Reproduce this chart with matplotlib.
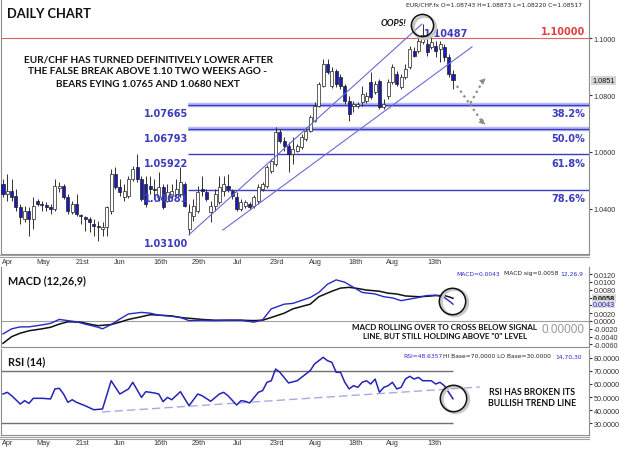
import numpy as np
import matplotlib.pyplot as plt

W, H = 619, 452
plt.rcParams['font.family'] = ['DejaVu Sans']

# ---------------- data ----------------
opens = [1.0488, 1.0453, 1.0463, 1.0446, 1.0407, 1.0365, 1.0393, 1.0365, 1.0428, 1.0417,
         1.0414, 1.0407, 1.0400, 1.0474, 1.0481, 1.0442, 1.0389, 1.0417, 1.0379, 1.0372,
         1.0365, 1.0347, 1.0340, 1.0330, 1.0337, 1.0393, 1.0523, 1.0477, 1.0442, 1.0446,
         1.0505, 1.0547, 1.0505, 1.0488, 1.0481, 1.0470, 1.0442, 1.0477, 1.0428, 1.0446,
         1.0453, 1.0453, 1.0488, 1.0330, 1.0375, 1.0393, 1.0470, 1.0460, 1.0389, 1.0410,
         1.0424, 1.0463, 1.0481, 1.0463, 1.0442, 1.0400, 1.0410, 1.0417, 1.0410, 1.0428,
         1.0470, 1.0481, 1.0533, 1.0558, 1.0670, 1.0638, 1.0621, 1.0593, 1.0603, 1.0617,
         1.0645, 1.0674, 1.0709, 1.0761, 1.0832, 1.0909, 1.0832, 1.0884, 1.0863, 1.0832,
         1.0779, 1.0761, 1.0761, 1.0775, 1.0779, 1.0846, 1.0811, 1.0849, 1.0758, 1.0796,
         1.0846, 1.0874, 1.0828, 1.0863, 1.0898, 1.0954, 1.0954, 1.0986, 1.0979, 1.0969,
         1.0972, 1.0961, 1.0969, 1.0933, 1.08743]
closes = [1.0453, 1.0463, 1.0442, 1.0407, 1.0372, 1.0393, 1.0365, 1.0410, 1.0417, 1.0414,
          1.0407, 1.0400, 1.0481, 1.0481, 1.0442, 1.0393, 1.0417, 1.0382, 1.0375, 1.0365,
          1.0354, 1.0340, 1.0337, 1.0337, 1.0407, 1.0523, 1.0477, 1.0460, 1.0463, 1.0505,
          1.0540, 1.0505, 1.0435, 1.0417, 1.0470, 1.0467, 1.0477, 1.0407, 1.0460, 1.0463,
          1.0470, 1.0495, 1.0410, 1.0389, 1.0410, 1.0460, 1.0463, 1.0435, 1.0410, 1.0453,
          1.0477, 1.0488, 1.0470, 1.0446, 1.0400, 1.0424, 1.0424, 1.0407, 1.0442, 1.0477,
          1.0488, 1.0547, 1.0568, 1.0670, 1.0638, 1.0621, 1.0593, 1.0610, 1.0621, 1.0652,
          1.0674, 1.0722, 1.0761, 1.0839, 1.0909, 1.0881, 1.0884, 1.0839, 1.0832, 1.0779,
          1.0733, 1.0768, 1.0768, 1.0803, 1.0796, 1.0793, 1.0839, 1.0758, 1.0768, 1.0846,
          1.0898, 1.0839, 1.0863, 1.0891, 1.0961, 1.0937, 1.0990, 1.1011, 1.0951, 1.0986,
          1.0954, 1.0979, 1.0933, 1.0874, 1.08517]
highs = [1.0505, 1.0523, 1.0505, 1.0470, 1.0417, 1.0410, 1.0407, 1.0442, 1.0435, 1.0428,
         1.0424, 1.0417, 1.0505, 1.0495, 1.0488, 1.0453, 1.0428, 1.0453, 1.0382, 1.0375,
         1.0372, 1.0365, 1.0358, 1.0354, 1.0410, 1.0540, 1.0547, 1.0505, 1.0488, 1.0516,
         1.0551, 1.0593, 1.0516, 1.0516, 1.0516, 1.0505, 1.0530, 1.0488, 1.0488, 1.0488,
         1.0505, 1.0547, 1.0495, 1.0417, 1.0435, 1.0481, 1.0516, 1.0470, 1.0428, 1.0470,
         1.0516, 1.0516, 1.0523, 1.0470, 1.0460, 1.0435, 1.0431, 1.0424, 1.0449, 1.0488,
         1.0495, 1.0554, 1.0575, 1.0688, 1.0681, 1.0652, 1.0635, 1.0652, 1.0628, 1.0663,
         1.0688, 1.0729, 1.0775, 1.0846, 1.0926, 1.0926, 1.0898, 1.0891, 1.0874, 1.0839,
         1.0796, 1.0779, 1.0775, 1.0832, 1.0811, 1.0881, 1.0849, 1.0856, 1.0786, 1.0856,
         1.0909, 1.0884, 1.0874, 1.0909, 1.0972, 1.0969, 1.1004, 1.10487, 1.1014, 1.1014,
         1.0990, 1.0990, 1.0979, 1.0944, 1.08873]
lows = [1.0442, 1.0428, 1.0428, 1.0393, 1.0347, 1.0354, 1.0305, 1.0330, 1.0410, 1.0393,
        1.0393, 1.0382, 1.0393, 1.0460, 1.0435, 1.0382, 1.0382, 1.0375, 1.0347, 1.0323,
        1.0319, 1.0305, 1.0288, 1.0305, 1.0305, 1.0382, 1.0470, 1.0446, 1.0428, 1.0439,
        1.0498, 1.0495, 1.0428, 1.0407, 1.0453, 1.0435, 1.0428, 1.0400, 1.0424, 1.0435,
        1.0446, 1.0442, 1.0407, 1.0310, 1.0358, 1.0386, 1.0446, 1.0428, 1.0354, 1.0393,
        1.0417, 1.0446, 1.0460, 1.0435, 1.0393, 1.0393, 1.0403, 1.0400, 1.0403, 1.0417,
        1.0463, 1.0474, 1.0526, 1.0551, 1.0631, 1.0603, 1.0530, 1.0558, 1.0600, 1.0610,
        1.0638, 1.0670, 1.0705, 1.0758, 1.0828, 1.0874, 1.0825, 1.0828, 1.0821, 1.0768,
        1.0709, 1.0740, 1.0754, 1.0761, 1.0772, 1.0786, 1.0803, 1.0751, 1.0751, 1.0786,
        1.0839, 1.0832, 1.0821, 1.0856, 1.0891, 1.0933, 1.0947, 1.0979, 1.0937, 1.0961,
        1.0933, 1.0916, 1.0919, 1.0863, 1.08220]

date_labels = ['Apr', 'May', '21st', 'Jun', '16th', '29th', 'Jul', '23rd', 'Aug', '18th', 'Aug', '13th']
date_pos = [1.0, 9.2, 18.3, 27, 36.5, 45.3, 54.1, 63.3, 72.1, 81.4, 90.1, 99.6]

fib_levels = [1.07665, 1.06793, 1.05922, 1.04681]
fib_labels = ['1.07665', '1.06793', '1.05922', '1.04681']
fib_pcts = ['38.2%', '50.0%', '61.8%', '78.6%']
swing_low, swing_high = 1.03100, 1.10487
last_close = 1.0851

macd_i = [0, 2, 4, 6, 9, 11, 13, 15, 17, 19, 22, 23, 25, 27, 29, 32, 34, 36, 39, 41, 43, 46, 49, 52,
          55, 58, 60, 62, 65, 67, 71, 73, 75, 77, 79, 81, 83, 86, 88, 90, 92, 94, 96, 98, 100, 102, 103, 104]
macd_v = [-0.0033, -0.0020, -0.0015, -0.0015, -0.0010, -0.0006, 0.0004, 0.0001, -0.0002, -0.0008,
          -0.0016, -0.0020, -0.0009, 0.0005, 0.0018, 0.0022, 0.0020, 0.0015, 0.0012, 0.0009,
          0.0001, 0.0002, 0.0001, 0.0002, 0.0002, -0.0003, 0.0003, 0.0031, 0.0043, 0.0045,
          0.0060, 0.0073, 0.0094, 0.0105, 0.0099, 0.0086, 0.0073, 0.0069, 0.0062, 0.0059,
          0.0052, 0.0056, 0.0060, 0.0065, 0.0066, 0.0060, 0.0052, 0.0043]
sig_i = [0, 2, 4, 6, 9, 11, 13, 15, 18, 20, 22, 25, 27, 29, 32, 34, 36, 39, 41, 43, 46, 49, 52,
         55, 58, 60, 62, 65, 67, 71, 73, 76, 78, 80, 82, 84, 87, 89, 91, 93, 96, 98, 100, 102, 103, 104]
sig_v = [-0.0057, -0.0040, -0.0031, -0.0025, -0.0020, -0.0016, -0.0008, -0.0002, -0.0003, -0.0008,
         -0.0012, -0.0009, -0.0003, 0.0004, 0.0011, 0.0016, 0.0015, 0.0013, 0.0009, 0.0007,
         0.0004, 0.0002, 0.0002, 0.0002, 0.0001, 0.0002, 0.0009, 0.0020, 0.0031, 0.0043,
         0.0062, 0.0076, 0.0084, 0.0086, 0.0083, 0.0079, 0.0076, 0.0071, 0.0069, 0.0064,
         0.0062, 0.0063, 0.0065, 0.0065, 0.0062, 0.0058]
macd_ticks = [0.012, 0.010, 0.008, 0.006, 0.004, 0.002, 0.0, -0.002, -0.004, -0.006]

rsi_i = [0, 1, 2, 4, 5, 6, 7, 9, 11, 12, 13, 14, 15, 16, 17, 19, 21, 23, 25, 27, 29, 30, 32, 33,
         35, 36, 37, 38, 39, 41, 43, 45, 46, 48, 50, 51, 52, 54, 55, 56, 57, 59, 60, 61, 62, 63,
         64, 66, 68, 71, 72, 74, 75, 76, 77, 78, 79, 80, 81, 82, 83, 84, 85, 86, 87, 88, 89, 90,
         91, 92, 93, 94, 95, 96, 97, 99, 100, 101, 102, 103, 104]
rsi_v = [52.3, 53.6, 51.0, 44.6, 47.2, 45.1, 49.0, 49.0, 48.5, 56.2, 56.7, 52.3, 45.9, 47.9, 45.9,
         43.3, 40.2, 40.8, 62.5, 52.3, 56.2, 61.3, 49.7, 54.1, 53.1, 52.3, 46.4, 49.7, 47.9, 54.1,
         43.3, 52.3, 51.0, 46.7, 52.3, 53.6, 51.0, 43.8, 47.2, 46.7, 45.4, 53.6, 54.9, 61.3, 62.5,
         71.5, 69.0, 60.8, 62.5, 70.3, 75.4, 80.5, 77.9, 76.7, 69.0, 69.0, 61.3, 56.2, 58.7, 57.4,
         61.3, 62.5, 60.0, 63.8, 53.6, 57.4, 58.7, 61.3, 56.2, 57.4, 63.8, 65.9, 63.8, 65.1, 62.5,
         62.5, 60.0, 61.3, 58.7, 53.6, 48.6]
rsi_ticks = [80, 70, 60, 50, 40, 30]

# ---------------- layout helpers ----------------
def box(x0, y0, x1, y1):
    return [x0 / W, 1 - y1 / H, (x1 - x0) / W, (y1 - y0) / H]

def fx(px):
    return px / W

def fy(py):
    return 1 - py / H

BLUE = '#1c1cb4'
FIB = '#3c3cc0'
GRID = '#8c8c8c'
ANN = dict(family='Lato', weight='bold', color='#111111')
SMALL = dict(family='Liberation Sans', fontsize=5.2)

fig = plt.figure(figsize=(W / 100, H / 100), dpi=100)
X0, X1 = -0.46, 135.43

def style(a):
    a.set_xlim(X0, X1)
    for s in a.spines.values():
        s.set_color(GRID)
        s.set_linewidth(0.8)
    a.spines['top'].set_visible(False)
    a.yaxis.tick_right()
    a.tick_params(axis='y', length=2, colors='#333333', pad=1.5)
    a.tick_params(axis='x', length=0, colors='#333333', pad=3)

def small_labels(a):
    for t in a.get_xticklabels() + a.get_yticklabels():
        t.set_fontfamily(SMALL['family'])
        t.set_fontsize(SMALL['fontsize'])

# ---------------- main price panel ----------------
ax = fig.add_axes(box(1, 0, 589, 255))
style(ax)
ax.set_ylim(1.0242, 1.1137)
idx = np.arange(len(closes))
o = np.array(opens)
c = np.array(closes)
bull = c >= o
ax.vlines(idx, lows, highs, color='#303030', lw=0.7, zorder=3)
ax.bar(idx, np.maximum(np.abs(c - o), 0.00015), bottom=np.minimum(o, c), width=0.7,
       color=np.where(bull, 'white', BLUE), edgecolor='#202020', linewidth=0.5, zorder=4)

ax.axhline(1.10, color='#e06464', lw=0.8, zorder=2)
for k, lvl in enumerate(fib_levels):
    if k < 2:
        ax.hlines(lvl, 42.7, X1, color='#b8bcf2', lw=3.2, zorder=2)
    ax.hlines(lvl, 42.7, X1, color=FIB, lw=1.0, zorder=2)
    ax.annotate(fib_labels[k], (42.8, lvl), xytext=(0, -2.5), textcoords='offset points',
                ha='right', va='top', fontsize=7, weight='bold', color=FIB, zorder=6)
    ax.annotate(fib_pcts[k], (134.6, lvl), xytext=(0, -2.5), textcoords='offset points',
                ha='right', va='top', fontsize=7, weight='bold', color=FIB, zorder=6)
ax.annotate(f'{swing_low:.5f}', (42.8, swing_low), xytext=(0, -2.5), textcoords='offset points',
            ha='right', va='top', fontsize=7, weight='bold', color=FIB, zorder=6)
ax.annotate(f'{swing_high:.5f}', (102.4, swing_high), xytext=(0, -2.5), textcoords='offset points',
            ha='center', va='top', fontsize=7, weight='bold', color=FIB, zorder=6)
ax.annotate('1.10000', (134.6, 1.10), xytext=(0, 1.5), textcoords='offset points',
            ha='right', va='bottom', fontsize=7, weight='bold', color='#e04040', zorder=6)

# trend channel
ax.plot([43, 96.8], [swing_low, swing_high], color='#6a6ad8', lw=0.8, zorder=5)
ax.plot([50.8, 108.4], [1.0326, 1.0969], color='#6a6ad8', lw=0.8, zorder=5)

# dotted scenario arrows
ax.plot([104.9, 107.9, 111.0], [1.0832, 1.0768, 1.0852], ls=':', color='#8a8a8a', lw=1.6, zorder=5)
ax.plot([107.9, 111.0], [1.0768, 1.0700], ls=':', color='#8a8a8a', lw=1.6, zorder=5)
ax.annotate('', xy=(112.0, 1.0865), xytext=(110.8, 1.0848),
            arrowprops=dict(arrowstyle='-|>', color='#8a8a8a', lw=0.5, mutation_scale=9))
ax.annotate('', xy=(111.9, 1.0690), xytext=(110.8, 1.0705),
            arrowprops=dict(arrowstyle='-|>', color='#8a8a8a', lw=0.5, mutation_scale=9))

# circle around the false break
ax.plot(97.2, 1.1040, 'o', ms=16, mfc='none', mec='#c8c8c8', mew=2.2, zorder=6)
ax.plot(96.8, 1.1045, 'o', ms=16, mfc='none', mec='#111111', mew=1.1, zorder=7)

ax.set_yticks([1.04, 1.06, 1.08, 1.10])
ax.set_yticklabels(['1.0400', '1.0600', '1.0800', '1.1000'])
ax.set_xticks(date_pos)
ax.set_xticklabels(date_labels)
small_labels(ax)
ax.text(1.006, last_close, f'{last_close:.4f}', transform=ax.get_yaxis_transform(),
        color='#111111', va='center', ha='left',
        bbox=dict(boxstyle='square,pad=0.15', fc='#d4d4d4', ec='none'), **SMALL)

# ---------------- MACD panel ----------------
am = fig.add_axes(box(1, 268, 589, 348))
style(am)
am.set_ylim(-0.00664, 0.01379)
am.axhline(0, color='#a0a0a0', lw=0.8)
am.plot(sig_i, sig_v, color='#111111', lw=1.1)
am.plot(macd_i, macd_v, color='#2828c8', lw=1.0)
am.set_xticks([])
am.set_yticks(macd_ticks)
# the two value tags below cover the 0.0060 / 0.0040 labels, as on the original
am.set_yticklabels(['' if v in (0.006, 0.004) else f'{v:.4f}' for v in macd_ticks])
small_labels(am)
am.text(1.006, sig_v[-1], f'{sig_v[-1]:.4f}', transform=am.get_yaxis_transform(),
        weight='bold', color='#111111', va='center', ha='left',
        bbox=dict(boxstyle='square,pad=0.1', fc='#dcdcdc', ec='none'), **SMALL)
am.text(1.006, macd_v[-1], f'{macd_v[-1]:.4f}', transform=am.get_yaxis_transform(),
        color='#2828c8', va='center', ha='left',
        bbox=dict(boxstyle='square,pad=0.1', fc='#dcdcdc', ec='none'), **SMALL)
am.plot(104.2, 0.0049, 'o', ms=19, mfc='none', mec='#c8c8c8', mew=2.2, zorder=6)
am.plot(103.8, 0.0051, 'o', ms=19, mfc='none', mec='#111111', mew=1.1, zorder=7)

# ---------------- RSI panel ----------------
ar = fig.add_axes(box(1, 350, 589, 436))
style(ar)
ar.set_ylim(20.8, 86.9)
ar.hlines([70, 30], X0, 104, color='#707070', lw=1.0)
ar.plot([22.9, 110.2], [38.5, 57.7], ls=(0, (6, 3)), color='#a8a8e8', lw=1.0)
ar.plot(rsi_i, rsi_v, color='#2424b8', lw=1.1)
ar.set_yticks(rsi_ticks)
ar.set_yticklabels([f'{v:.4f}' for v in rsi_ticks])
ar.set_xticks(date_pos)
ar.set_xticklabels(date_labels)
small_labels(ar)
ar.plot(104.4, 48.4, 'o', ms=19, mfc='none', mec='#c8c8c8', mew=2.2, zorder=6)
ar.plot(104.0, 49.2, 'o', ms=19, mfc='none', mec='#111111', mew=1.1, zorder=7)

# panel separators
for py in (255.5, 258, 437.5, 440):
    fig.add_artist(plt.Line2D([0, fx(589)], [fy(py), fy(py)], color='#a0a0a0', lw=0.8))

# ---------------- text ----------------
fig.text(fx(7), fy(14), 'DAILY CHART', fontsize=9.3, va='center', **ANN)
fig.text(fx(148), fy(72),
         'EUR/CHF HAS TURNED DEFINITIVELY LOWER AFTER\nTHE FALSE BREAK ABOVE 1.10 TWO WEEKS AGO -\n'
         'BEARS EYING 1.0765 AND 1.0680 NEXT',
         fontsize=7.2, ha='center', va='center', linespacing=1.45, **ANN)
fig.text(fx(394), fy(24), 'OOPS!', fontsize=6.5, ha='center', va='center', style='italic', **ANN)
fig.text(fx(582), fy(5), 'EUR/CHF.fx O=1.08743 H=1.08873 L=1.08220 C=1.08517',
         fontsize=4.3, ha='right', va='center', color='#222222')

fig.text(fx(8), fy(281), 'MACD (12,26,9)', fontsize=7.8, va='center', **ANN)
fig.text(fx(583), fy(274), '12,26,9', fontsize=4.3, ha='right', va='center', color='#2828c8')
fig.text(fx(558), fy(274), 'MACD sig=0.0058', fontsize=4.3, ha='right', va='center', color='#222222')
fig.text(fx(500), fy(274), 'MACD=0.0043', fontsize=4.3, ha='right', va='center', color='#2828c8')
fig.text(fx(445), fy(332),
         'MACD ROLLING OVER TO CROSS BELOW SIGNAL\nLINE, BUT STILL HOLDING ABOVE "0" LEVEL',
         fontsize=5.8, ha='center', va='center', linespacing=1.35, **ANN)
fig.text(fx(585), fy(330), '0.00000', fontsize=8.5, ha='right', va='center',
         color='#9a9a9a', family='Liberation Sans')

fig.text(fx(8), fy(362), 'RSI (14)', fontsize=7.8, va='center', **ANN)
fig.text(fx(582), fy(357), '14,70,30', fontsize=4.3, ha='right', va='center', color='#2828c8')
fig.text(fx(551), fy(357), 'HI Base=70.0000 LO Base=30.0000', fontsize=4.3, ha='right',
         va='center', color='#222222')
fig.text(fx(443), fy(357), 'RSI=48.6357', fontsize=4.3, ha='right', va='center', color='#2828c8')
fig.text(fx(532), fy(398), 'RSI HAS BROKEN ITS\nBULLISH TREND LINE', fontsize=6.3,
         ha='center', va='center', linespacing=1.35, **ANN)

fig.savefig('out.png', dpi=100)
